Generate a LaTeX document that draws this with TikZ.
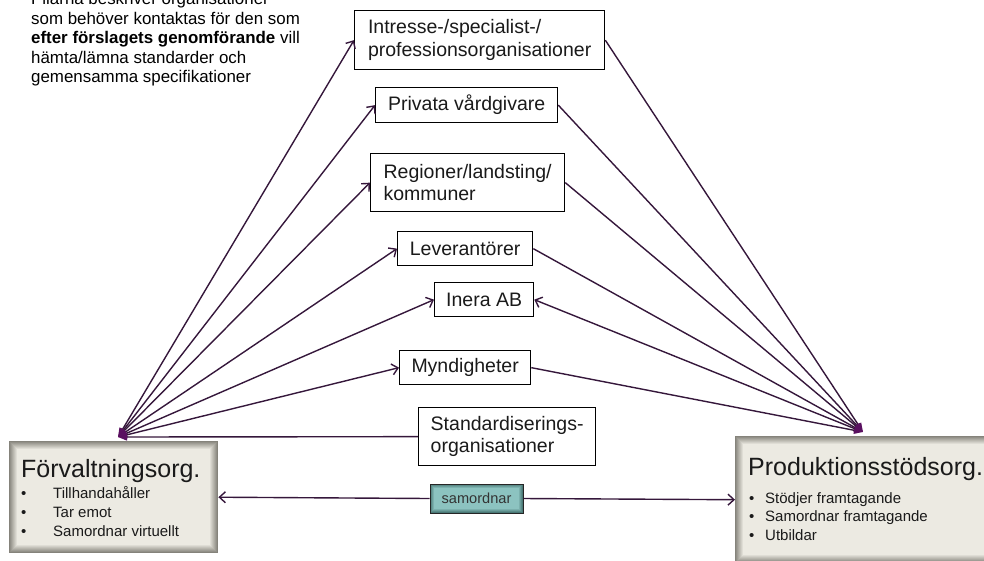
\documentclass[tikz,border=0pt]{standalone}
\usepackage{fontspec}
\setmainfont{Liberation Sans}
\usetikzlibrary{arrows.meta}

\definecolor{linkcol}{HTML}{35173B}
\definecolor{hubcol}{HTML}{5A1060}
\definecolor{panelfill}{HTML}{ECEAE2}
\definecolor{paneledge}{HTML}{85837B}
\definecolor{tealfill}{HTML}{8CC3C0}
\definecolor{tealedge}{HTML}{4A7876}
\definecolor{inktext}{HTML}{1A1A1A}

\tikzset{
  % soft inner edge: nested rectangles blending from edge colour to fill colour
  glow/.style n args={3}{path picture={
      \foreach \k in {0,...,#3}{
        \pgfmathsetmacro\pc{100*\k/#3}
        \fill[#1!\pc!#2]
          ([shift={(\k pt,-\k pt)}]path picture bounding box.north west) rectangle
          ([shift={(-\k pt,\k pt)}]path picture bounding box.south east);
      }}},
  panel/.style={anchor=north west, inner sep=0pt, fill=panelfill,
    glow={panelfill}{paneledge}{8}},
  orgbox/.style={draw=black, fill=white, line width=1.3pt, inner sep=0pt,
    anchor=north west, align=left, text=inktext,
    font=\fontsize{19.5}{22.5}\selectfont},
  samord/.style={draw=black!85, line width=1pt, fill=tealfill, inner sep=0pt,
    glow={tealfill}{tealedge}{4}, minimum width=93pt, minimum height=29pt,
    text=black!80, font=\fontsize{14.6}{16}\selectfont},
  paneltitle/.style={anchor=base west, inner sep=0pt, text=inktext,
    font=\fontsize{25}{28}\selectfont},
  % multi-line nodes: the base anchor sits on the last line
  panellist/.style={anchor=base west, inner sep=0pt, align=left, text=inktext},
  note/.style={anchor=base west, inner sep=0pt, align=left, text=black,
    font=\fontsize{16.9}{19.5}\selectfont},
  link/.style={draw=linkcol, line width=1.4pt},
  tobox/.tip={Straight Barb[length=6pt,width=11pt]},
  tohub/.tip={Triangle[length=9pt,width=7pt,color=hubcol]},
}

\begin{document}
\begin{tikzpicture}[x=1pt,y=-1pt]
\useasboundingbox (0,0) rectangle (984,560);
\clip (0,0) rectangle (984,560);

% explanatory note
\node[note] (note) at (31,82.5) {Pilarna beskriver organisationer\\
  som behöver kontaktas för den som\\
  \textbf{efter förslagets genomförande} vill\\
  hämta/lämna standarder och\\
  gemensamma specifikationer};

% the two main organisations
\node[panel, minimum width=209pt, minimum height=112pt] (forv) at (9,441) {};
\node[paneltitle] (forvtitle) at (21,477) {Förvaltningsorg.};
\node[panellist, font=\fontsize{15}{18.7}\selectfont] (forvlist) at (21,536)
  {\makebox[32pt][l]{•}Tillhandahåller\\
   \makebox[32pt][l]{•}Tar emot\\
   \makebox[32pt][l]{•}Samordnar virtuellt};

\node[panel, minimum width=260pt, minimum height=127pt] (prod) at (735,436) {};
\node[paneltitle] (prodtitle) at (748,475) {Produktionsstödsorg.};
\node[panellist, font=\fontsize{15}{18.5}\selectfont] (prodlist) at (749,540)
  {\makebox[16pt][l]{•}Stödjer framtagande\\
   \makebox[16pt][l]{•}Samordnar framtagande\\
   \makebox[16pt][l]{•}Utbildar};

% organisations in between
\node[orgbox, minimum width=250pt, minimum height=59pt] (intr) at (354,10)
  {Intresse-/specialist-/\\professionsorganisationer};
\node[orgbox, minimum width=182pt, minimum height=35pt] (priv) at (375,87)
  {Privata vårdgivare};
\node[orgbox, minimum width=194pt, minimum height=58pt] (regi) at (370,153)
  {Regioner/landsting/\\kommuner};
\node[orgbox, minimum width=135pt, minimum height=34pt] (leve) at (397,231)
  {Leverantörer};
\node[orgbox, minimum width=99pt, minimum height=34pt] (iner) at (434,282)
  {Inera AB};
\node[orgbox, minimum width=131pt, minimum height=34pt] (mynd) at (399,350)
  {Myndigheter};
\node[orgbox, minimum width=177pt, minimum height=58pt] (stan) at (418,407)
  {Standardiserings-\\organisationer};

% meeting points of the arrows
\coordinate (lhub) at (118,437);
\coordinate (rhub) at (863,432);

% links from the administrating organisation
\draw[link, tohub-tobox] (lhub) -- (intr.west);
\draw[link, tohub-tobox] (lhub) -- (priv.west);
\draw[link, tohub-tobox] (lhub) -- (regi.west);
\draw[link, tohub-tobox] (lhub) -- (leve.west);
\draw[link, tohub-tobox] (lhub) -- (iner.west);
\draw[link, tohub-tobox] (lhub) -- (mynd.west);
\draw[link, tohub-] (lhub) -- (stan.west);

% links to the production support organisation
\draw[link, -tohub] (intr.east) -- (rhub);
\draw[link, -tohub] (priv.east) -- (rhub);
\draw[link, -tohub] (regi.east) -- (rhub);
\draw[link, -tohub] (leve.east) -- (rhub);
\draw[link, tobox-tohub] (iner.east) -- (rhub);
\draw[link, -tohub] (mynd.east) -- (rhub);

% coordination between the two
\node[samord] (sam) at (476.5,498.5) {samordnar};
\draw[link, tobox-] (forv.east) -- (sam.west);
\draw[link, -tobox] (sam.east) -- (prod.west);
\end{tikzpicture}
\end{document}
